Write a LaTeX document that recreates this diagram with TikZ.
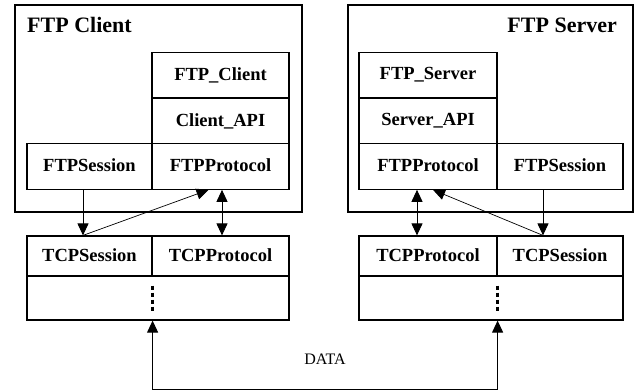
\documentclass[tikz,border=0pt]{standalone}
\usepackage{fontspec}
\setmainfont{Liberation Serif}
\usetikzlibrary{arrows.meta}
\begin{document}
\begin{tikzpicture}[x=1pt,y=-1pt,
  outerbox/.style={draw,line width=1.2pt,rectangle,inner sep=0pt,minimum width=#1},
  cell/.style={draw,line width=1.2pt,rectangle,inner sep=0pt,minimum height=45.5pt,
    font=\bfseries\fontsize{18.5}{20}\selectfont},
  tcell/.style={draw,line width=1.2pt,rectangle,inner sep=0pt,minimum height=40pt,
    font=\bfseries\fontsize{18.5}{20}\selectfont},
  lowcell/.style={draw,line width=1.2pt,rectangle,inner sep=0pt,minimum height=44pt},
  title/.style={font=\bfseries\fontsize{22}{24}\selectfont,inner sep=0pt},
  arr/.style={line width=1pt,-{Triangle[length=12pt,width=11pt]}},
  darr/.style={line width=1pt,{Triangle[length=12pt,width=11pt]}-{Triangle[length=12pt,width=11pt]}},
  thinarr/.style={line width=0.7pt,-{Triangle[length=12pt,width=11pt]}},
  dots/.style={line width=2.5pt,dash pattern=on 4pt off 3pt}
]
\useasboundingbox (0,0) rectangle (636,391);
% client
\node[outerbox=287pt,minimum height=207pt] (cbox) at (158.5,108.5) {};
\node[title,anchor=west] (ctitle) at (27,25) {FTP Client};
\node[cell,minimum width=137pt] (cftp) at (220.5,75) {\raisebox{2pt}{FTP\_Client}};
\node[cell,minimum width=137pt] (capi) at (220.5,121) {\raisebox{2pt}{Client\_API}};
\node[cell,minimum width=137pt] (cproto) at (220.5,166.5) {\raisebox{2pt}{FTPProtocol}};
\node[cell,minimum width=125pt] (csess) at (89.5,166.5) {\raisebox{2pt}{FTPSession}};
\node[tcell,minimum width=125pt] (ctcps) at (89.5,256) {\raisebox{2pt}{TCPSession}};
\node[tcell,minimum width=137pt] (ctcpp) at (220.5,256) {\raisebox{2pt}{TCPProtocol}};
\node[lowcell,minimum width=262pt] (clow) at (158,298) {};
% server
\node[outerbox=285pt,minimum height=207pt] (sbox) at (490.5,108.5) {};
\node[title,anchor=east] (stitle) at (617,25) {FTP Server};
\node[cell,minimum width=138pt] (sftp) at (428,75) {\raisebox{2pt}{FTP\_Server}};
\node[cell,minimum width=138pt] (sapi) at (428,121) {\raisebox{2pt}{Server\_API}};
\node[cell,minimum width=138pt] (sproto) at (428,166.5) {\raisebox{2pt}{FTPProtocol}};
\node[cell,minimum width=126pt] (ssess) at (560,166.5) {\raisebox{2pt}{FTPSession}};
\node[tcell,minimum width=138pt] (stcpp) at (428,256) {\raisebox{2pt}{TCPProtocol}};
\node[tcell,minimum width=126pt] (stcps) at (560,256) {\raisebox{2pt}{TCPSession}};
\node[lowcell,minimum width=264pt] (slow) at (491,298) {};
% dots
\draw[dots] ([yshift=12.5pt]ctcps.east |- clow.center) -- ([yshift=-13pt]ctcps.east |- clow.center);
\draw[dots] ([yshift=12.5pt]stcpp.east |- slow.center) -- ([yshift=-13pt]stcpp.east |- slow.center);
% client arrows
\draw[arr] ([xshift=-6.5pt]csess.south) -- ([xshift=-6.5pt]ctcps.north);
\draw[thinarr] ([xshift=-6.5pt]ctcps.north) -- ([xshift=-12pt]cproto.south);
\draw[darr] ([xshift=1.5pt]cproto.south) -- ([xshift=1.5pt]ctcpp.north);
% server arrows
\draw[darr] ([xshift=-11pt]sproto.south) -- ([xshift=-11pt]stcpp.north);
\draw[arr] ([xshift=-17pt]ssess.south) -- ([xshift=-17pt]stcps.north);
\draw[thinarr] ([xshift=-17pt]stcps.north) -- ([xshift=5pt]sproto.south);
% data
\coordinate (dl) at (152,389);
\draw[darr] (ctcps.east |- clow.south) -- (ctcps.east |- dl) -- (stcpp.east |- dl) -- (stcpp.east |- slow.south);
\node[font=\fontsize{16}{18}\selectfont,inner sep=0pt] (data) at (325,359) {DATA};
\end{tikzpicture}
\end{document}
